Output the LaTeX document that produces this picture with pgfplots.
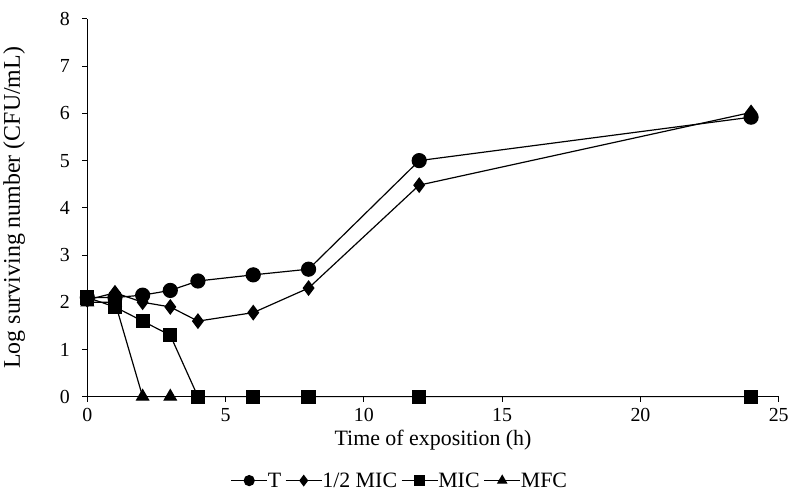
\documentclass[border=0pt]{standalone}
\usepackage{fontspec}
\setmainfont{Liberation Serif}
\usepackage{pgfplots}
\pgfplotsset{compat=1.18}
\begin{document}
\begin{tikzpicture}
\begin{axis}[
 scale only axis, width=692bp, height=378bp,
 xmin=0, xmax=25, ymin=0, ymax=8,
 axis x line=bottom, axis y line=left,
 axis line style={-, line width=1pt, black},
 xtick={0,5,...,25}, ytick={0,1,...,8},
 tick align=outside, major tick length=5bp,
 tick style={black, line width=1pt},
 ticklabel style={font=\fontsize{20}{20}\selectfont},
 yticklabel style={xshift=-9bp},
 xticklabel style={yshift=-3bp},
 /pgf/number format/assume math mode=true,
 xlabel={Time of exposition (h)},
 ylabel={Log surviving number (CFU/mL)},
 xlabel style={font=\fontsize{22}{22}\selectfont, yshift=-2bp},
 ylabel style={font=\fontsize{24}{24}\selectfont},
 ylabel shift=28bp,
 legend style={draw=none, at={(0.452,-0.19)}, anchor=north, legend columns=4,
   font=\fontsize{22}{22}\selectfont,
   /tikz/every even column/.append style={column sep=2bp},
   /tikz/every odd column/.append style={column sep=-2bp}},
 legend image code/.code={\draw[mark repeat=2,mark phase=2, mark size=5bp] plot coordinates {(0bp,0bp) (18bp,0bp) (36bp,0bp)};},
 clip=false,
]
\addplot[black, line width=1.2pt, mark=*, mark size=7bp, mark options={solid, fill=black}] coordinates {
(0,2.1) (1,2.1) (2,2.15) (3,2.25) (4,2.45) (6,2.58) (8,2.7) (12,5.0) (24,5.92)};
\addlegendentry{T}
\addplot[black, line width=1.2pt, mark=diamond*, mark size=7bp, mark options={solid, fill=black}] coordinates {
(0,2.05) (1,2.2) (2,2.0) (3,1.9) (4,1.6) (6,1.78) (8,2.3) (12,4.48) (24,6.02)};
\addlegendentry{1/2 MIC}
\addplot[black, line width=1.2pt, mark=square*, mark size=6.5bp, mark options={solid, fill=black}] coordinates {
(0,2.1) (1,1.9) (2,1.6) (3,1.3) (4,0) (6,0) (8,0) (12,0) (24,0)};
\addlegendentry{MIC}
\addplot[black, line width=1.2pt, mark=triangle*, mark size=7bp, mark options={solid, fill=black}] coordinates {
(0,2.0) (1,2.0) (2,0) (3,0)};
\addlegendentry{MFC}
\end{axis}
\path ([yshift=19bp]current axis.north west) -- ([yshift=19bp]current axis.north east);
\end{tikzpicture}
\end{document}
